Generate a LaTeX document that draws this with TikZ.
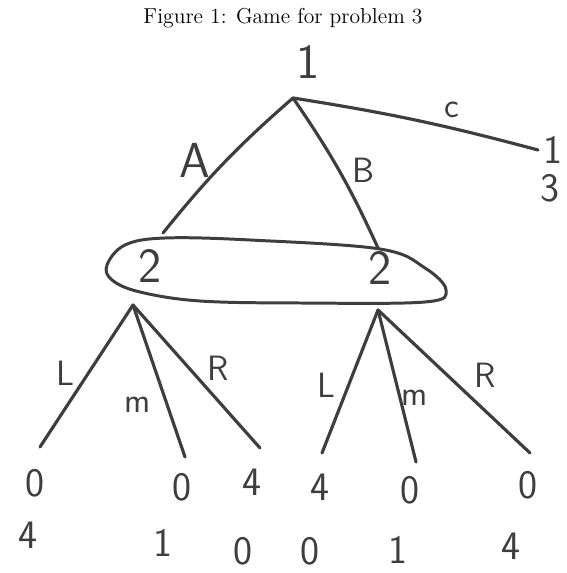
\documentclass[tikz,border=0pt]{standalone}
\usepackage{tikz}
\usetikzlibrary{calc}
\usepackage{xcolor}
\definecolor{inkgray}{RGB}{62, 62, 62}
\tikzset{
  % Tree branches
  branch/.style   = {line width=1.8pt, draw=inkgray, line cap=round},
  infoset/.style  = {line width=1.7pt, draw=inkgray},
  % Labels
  player/.style   = {font=\sffamily\fontsize{28}{30}\selectfont, text=inkgray, inner sep=0pt},
  act/.style      = {font=\sffamily\fontsize{20}{24}\selectfont, text=inkgray, inner sep=0pt},
  pay/.style      = {font=\sffamily\fontsize{23}{26}\selectfont, text=inkgray, inner sep=0pt},
  caption/.style  = {font=\fontsize{12.3}{14}\selectfont},
}

\begin{document}
\begin{tikzpicture}[x=0.02cm, y=-0.02cm]
  \useasboundingbox (0,0) rectangle (566,573);
  \node[caption] (cap) at (283,18) {Figure 1: Game for problem 3};
  % Decision points
  \coordinate (r) at (293,98);
  \coordinate (nA) at (163,233);
  \coordinate (nB) at (378,248);
  \coordinate (nC) at (538,150);
  \coordinate (vL) at (133,305);
  \coordinate (vR) at (378,310);
  % Leaves
  \coordinate (lL) at (40,447);
  \coordinate (lM) at (185,457);
  \coordinate (lR) at (260,448);
  \coordinate (rL) at (322,453);
  \coordinate (rM) at (416,462);
  \coordinate (rR) at (530,453);
  % Players
  \node[player] (p1) at (308,62) {1};
  \node[player] (p2a) at (150,266) {2};
  \node[player] (p2b) at (380,268) {2};
  % Information set
  \draw[infoset] plot[smooth cycle, tension=0.6] coordinates {
    (107,265) (125,245) (165,238) (250,240) (380,249) (425,268)
    (446,290) (425,302) (300,303) (200,301) (140,292) (112,280)};
  % Branches
  \draw[branch] (r) to[bend right=5] (nA);
  \draw[branch] (r) to[bend left=5] (nB);
  \draw[branch] (r) to[bend left=3] (nC);
  \foreach \t in {lL,lM,lR} \draw[branch] (vL) -- (\t);
  \foreach \t in {rL,rM,rR} \draw[branch] (vR) -- (\t);
  % Action labels
  \node[act, font=\sffamily\fontsize{28}{30}\selectfont] (aA) at (195,160) {A};
  \node[act] (aB) at (363,170) {B};
  \node[act] (aC) at (452,110) {c};
  \node[act] (aL1) at (65,373) {L};
  \node[act] (aM1) at (138,405) {m};
  \node[act] (aR1) at (218,368) {R};
  \node[act] (aL2) at (326,385) {L};
  \node[act] (aM2) at (415,398) {m};
  \node[act] (aR2) at (485,375) {R};
  % Payoffs
  \node[pay] (uC1) at (553,150) {1};
  \node[pay] (uC2) at (550,188) {3};
  \node[pay] (uLL1) at (35,483) {0};
  \node[pay] (uLL2) at (28,535) {4};
  \node[pay] (uLM1) at (182,487) {0};
  \node[pay] (uLM2) at (163,543) {1};
  \node[pay] (uLR1) at (252,482) {4};
  \node[pay] (uLR2) at (243,551) {0};
  \node[pay] (uRL1) at (320,487) {4};
  \node[pay] (uRL2) at (310,551) {0};
  \node[pay] (uRM1) at (410,490) {0};
  \node[pay] (uRM2) at (398,550) {1};
  \node[pay] (uRR1) at (528,485) {0};
  \node[pay] (uRR2) at (511,546) {4};
\end{tikzpicture}
\end{document}
